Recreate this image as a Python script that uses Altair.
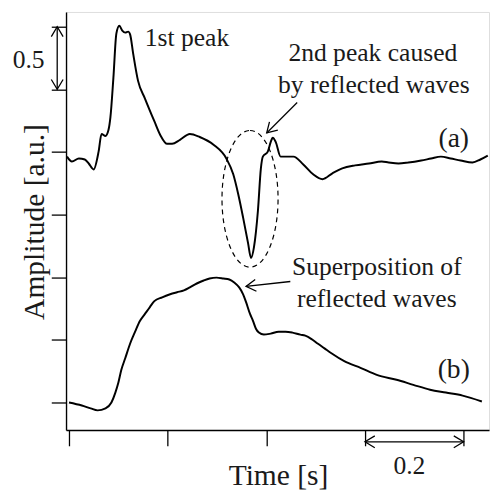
import altair as alt
import pandas as pd

# ---- curve (a): measured pulse wave ----
a_time = [-0.004, 0.006, 0.020, 0.032, 0.040, 0.050, 0.060, 0.066, 0.074, 0.080,
          0.084, 0.090, 0.096, 0.102, 0.108, 0.114, 0.120, 0.124, 0.130, 0.140,
          0.154, 0.173, 0.185, 0.199, 0.209, 0.225, 0.245, 0.265, 0.293, 0.319,
          0.333, 0.343, 0.353, 0.363, 0.369, 0.375, 0.383, 0.389, 0.393, 0.403,
          0.409, 0.413, 0.419, 0.429, 0.455, 0.475, 0.495, 0.514, 0.534, 0.554,
          0.580, 0.608, 0.634, 0.648, 0.668, 0.688, 0.714, 0.734, 0.754, 0.774,
          0.794, 0.818, 0.834, 0.849]
a_amp = [1.963, 1.924, 1.948, 1.940, 1.908, 1.861, 2.003, 2.144, 2.128, 2.175,
         2.278, 2.592, 2.945, 3.008, 2.969, 2.953, 2.961, 2.937, 2.788, 2.568,
         2.427, 2.246, 2.136, 2.065, 2.065, 2.097, 2.144, 2.120, 2.058, 1.948,
         1.822, 1.665, 1.476, 1.272, 1.154, 1.241, 1.531, 1.869, 1.963, 2.003,
         2.081, 2.113, 2.081, 1.963, 1.963, 1.901, 1.822, 1.783, 1.830, 1.869,
         1.893, 1.908, 1.924, 1.916, 1.908, 1.916, 1.932, 1.948, 1.963, 1.948,
         1.932, 1.916, 1.940, 1.971]

# ---- curve (b): superposition of reflected waves ----
b_time = [0.000, 0.026, 0.044, 0.058, 0.074, 0.086, 0.094, 0.100, 0.106, 0.114,
          0.124, 0.134, 0.144, 0.154, 0.164, 0.173, 0.189, 0.205, 0.219, 0.233,
          0.245, 0.259, 0.273, 0.285, 0.299, 0.313, 0.325, 0.335, 0.345, 0.353,
          0.359, 0.367, 0.373, 0.379, 0.385, 0.395, 0.409, 0.425, 0.439, 0.453,
          0.469, 0.479, 0.493, 0.504, 0.518, 0.532, 0.558, 0.592, 0.624, 0.664,
          0.698, 0.732, 0.764, 0.798, 0.837]
b_amp = [0.000, -0.024, -0.047, -0.063, -0.047, 0.000, 0.079, 0.157, 0.259, 0.353,
         0.471, 0.565, 0.652, 0.707, 0.762, 0.809, 0.840, 0.864, 0.880, 0.895,
         0.919, 0.950, 0.974, 0.990, 0.997, 0.990, 0.982, 0.958, 0.919, 0.864,
         0.801, 0.707, 0.652, 0.589, 0.558, 0.542, 0.550, 0.565, 0.565, 0.558,
         0.542, 0.534, 0.503, 0.471, 0.432, 0.393, 0.330, 0.275, 0.220, 0.181,
         0.141, 0.102, 0.079, 0.055, 0.008]

x_ticks = [0, 0.2, 0.4, 0.6, 0.8]
y_ticks = [0, 0.5, 1.0, 1.5, 2.0, 2.5, 3.0]

# ---- annotations (data coordinates) ----
note_text = ["2nd peak caused", "by reflected waves", "Superposition of",
             "reflected waves", "0.5", "0.2"]
note_t = [0.616, 0.618, 0.624, 0.624, -0.0818, 0.690]
note_amp = [2.725, 2.474, 1.021, 0.762, 2.670, -0.573]

peak_text = ["1st peak"]
peak_t = [0.1535]
peak_amp = [2.843]

tag_text = ["(a)", "(b)"]
tag_t = [0.780, 0.780]
tag_amp = [2.042, 0.196]

# arrow shafts: (t, amp) -> (t2, amp2)
arrow_t = [-0.0239, 0.6, 0.4626, 0.4487]
arrow_amp = [2.5, -0.314, 2.395, 0.966]
arrow_t2 = [-0.0239, 0.8, 0.4008, 0.3589]
arrow_amp2 = [3.0, -0.314, 2.152, 0.927]

# arrow heads: position and pointing direction (deg, clockwise from +x)
head_t = [-0.0239, -0.0239, 0.6, 0.8, 0.4008, 0.3589]
head_amp = [3.0, 2.5, -0.314, -0.314, 2.152, 0.927]
head_dir = [270, 90, 180, 0, 135, 174]

# dashed ellipse around the 2nd peak
ell_t = [0.367]
ell_amp = [1.626]

curves = pd.concat([
    pd.DataFrame({"t": a_time, "amp": a_amp, "s": "a"}),
    pd.DataFrame({"t": b_time, "amp": b_amp, "s": "b"}),
])

FONT = "Liberation Serif"
INK = "#1a1a1a"

xs = alt.Scale(domain=[-0.006, 0.8515], nice=False, zero=False)
ys = alt.Scale(domain=[-0.22, 3.118], nice=False, zero=False)

X = alt.X("t:Q", scale=xs, axis=alt.Axis(
    values=x_ticks, labels=False, grid=False, tickSize=16, tickWidth=1.3,
    tickColor="black", domainColor="black", domainWidth=1.4,
    title="Time [s]", titleFont=FONT, titleFontSize=30, titleFontWeight="normal",
    titleColor=INK, titleX=215.5, titleY=55, titleBaseline="alphabetic",
    titleAlign="center"))
Y = alt.Y("amp:Q", scale=ys, axis=alt.Axis(
    values=y_ticks, labels=False, grid=False, tickSize=15, tickWidth=1.3,
    tickColor="black", domainColor="black", domainWidth=1.4,
    title="Amplitude [a.u.]", titleFont=FONT, titleFontSize=30,
    titleFontWeight="normal", titleColor=INK, titleAngle=270, titleX=-23,
    titleY=213, titleBaseline="alphabetic", titleAlign="center"))

lines = alt.Chart(curves).mark_line(
    color="black", strokeWidth=2, interpolate="monotone"
).encode(x=X, y=Y, detail="s:N")

def pos(df):
    return alt.Chart(df)

notes = alt.Chart(pd.DataFrame({"t": note_t, "amp": note_amp, "txt": note_text})).mark_text(
    font=FONT, fontSize=26, color=INK, align="center", baseline="alphabetic"
).encode(x=alt.X("t:Q", scale=xs), y=alt.Y("amp:Q", scale=ys), text="txt:N")

peak = alt.Chart(pd.DataFrame({"t": peak_t, "amp": peak_amp, "txt": peak_text})).mark_text(
    font=FONT, fontSize=26, color=INK, align="left", baseline="alphabetic"
).encode(x=alt.X("t:Q", scale=xs), y=alt.Y("amp:Q", scale=ys), text="txt:N")

tags = alt.Chart(pd.DataFrame({"t": tag_t, "amp": tag_amp, "txt": tag_text})).mark_text(
    font=FONT, fontSize=28, color=INK, align="center", baseline="alphabetic"
).encode(x=alt.X("t:Q", scale=xs), y=alt.Y("amp:Q", scale=ys), text="txt:N")

shafts = alt.Chart(pd.DataFrame({"t": arrow_t, "amp": arrow_amp,
                                 "t2": arrow_t2, "amp2": arrow_amp2})).mark_rule(
    color="black", strokeWidth=1.3
).encode(x=alt.X("t:Q", scale=xs), y=alt.Y("amp:Q", scale=ys), x2="t2:Q", y2="amp2:Q")

heads = alt.Chart(pd.DataFrame({"t": head_t, "amp": head_amp, "dir": head_dir})).mark_point(
    shape="M -1 -0.6 L 0 0 L -1 0.6", size=400, filled=False, stroke="black",
    strokeWidth=1.3, opacity=1
).encode(x=alt.X("t:Q", scale=xs), y=alt.Y("amp:Q", scale=ys),
         angle=alt.Angle("dir:Q", scale=None))

ellipse = alt.Chart(pd.DataFrame({"t": ell_t, "amp": ell_amp})).mark_point(
    shape="M 0 -1 A 0.41 1 0 1 1 0 1 A 0.41 1 0 1 1 0 -1 Z", size=19321,
    filled=False, stroke="black", strokeWidth=1.2, strokeDash=[5, 4], opacity=1
).encode(x=alt.X("t:Q", scale=xs), y=alt.Y("amp:Q", scale=ys))

chart = alt.layer(lines, ellipse, shafts, heads, notes, peak, tags).properties(
    width=430, height=425,
    autosize=alt.AutoSizeParams(type="none"),
    padding={"left": 59, "top": 0, "right": 1, "bottom": 62},
).configure_view(stroke="#555", strokeWidth=1).configure(background="white")

chart.save("out.html", embed_options={"renderer": "svg", "actions": False})
